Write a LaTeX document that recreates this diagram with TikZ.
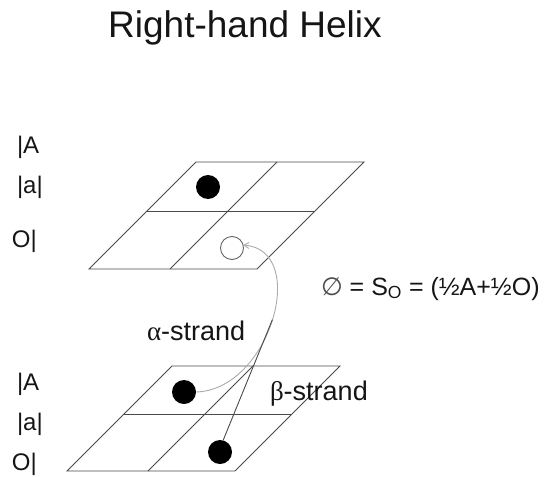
\documentclass[tikz,border=0pt]{standalone}
\usepackage{fontspec}
\setmainfont{Liberation Sans}
\newfontfamily\greekfont{Liberation Serif}
\newfontfamily\symfont{DejaVu Sans}
\usetikzlibrary{arrows.meta}
\definecolor{ink}{HTML}{151515}
\definecolor{rule}{HTML}{4A4A4A}
\definecolor{faint}{HTML}{ABABAB}
\tikzset{
  every node/.style={text=ink,inner sep=0pt,outer sep=0pt},
  plane/.style={draw=rule,line width=0.9pt},
  dot/.style={circle,fill=black,minimum size=24pt},
  hole/.style={circle,draw=rule!85,fill=white,line width=0.9pt,minimum size=23pt},
  lbl/.style={font=\fontsize{24}{28}\selectfont,anchor=base west},
  strandlbl/.style={font=\fontsize{27}{30}\selectfont,anchor=base west},
  alpha/.style={-{Straight Barb[length=5pt,width=6pt]},draw=faint,line width=0.9pt},
  beta/.style={draw=rule,line width=0.9pt},
}

\begin{document}
\begin{tikzpicture}[x=1pt,y=-1pt]
\useasboundingbox (0,0) rectangle (553,476);

% title
\node[font=\fontsize{37}{42}\selectfont,anchor=base] (title) at (245,38) {Right-hand Helix};

% upper plane
\draw[plane] (89,269) -- (257,269) -- (364,162) -- (196,162) -- cycle;
\draw[plane] (147,211) -- (315,211);
\draw[plane] (170,269) -- (277,162);
\node[dot] (t1) at (208,187) {};
\node[hole] (hole) at (232,248) {};
\node[lbl] (tA) at (17,153) {|A};
\node[lbl] (ta) at (17,193) {|a|};
\node[lbl] (tO) at (12,247) {O|};

% lower plane
\draw[plane] (67,471) -- (235,471) -- (340,366) -- (172,366) -- cycle;
\draw[plane] (124,414) -- (292,414);
\draw[plane] (148,471) -- (253,366);
\node[dot] (b1) at (184,392) {};
\node[dot] (b2) at (220,452) {};
\node[lbl] (bA) at (17,390) {|A};
\node[lbl] (ba) at (17,430) {|a|};
\node[lbl] (bO) at (12,470) {O|};

% strands
\path (b1.east) .. controls (270,390) and (310,250) .. (hole.15) coordinate[pos=0.5] (merge);
\draw[alpha] (b1.east) .. controls (270,390) and (310,250) .. (hole.15);
\draw[beta] (b2.75) -- (merge);
\node[strandlbl] (alab) at (147,340) {{\greekfont α}-strand};
\node[strandlbl] (blab) at (270,400) {{\greekfont β}-strand};

% formula
\node[font=\fontsize{25}{28}\selectfont,anchor=base west] (eq) at (321,295)
{{\symfont\color{rule}∅} = S\textsubscript{O} = (½A+½O)};

\end{tikzpicture}
\end{document}
